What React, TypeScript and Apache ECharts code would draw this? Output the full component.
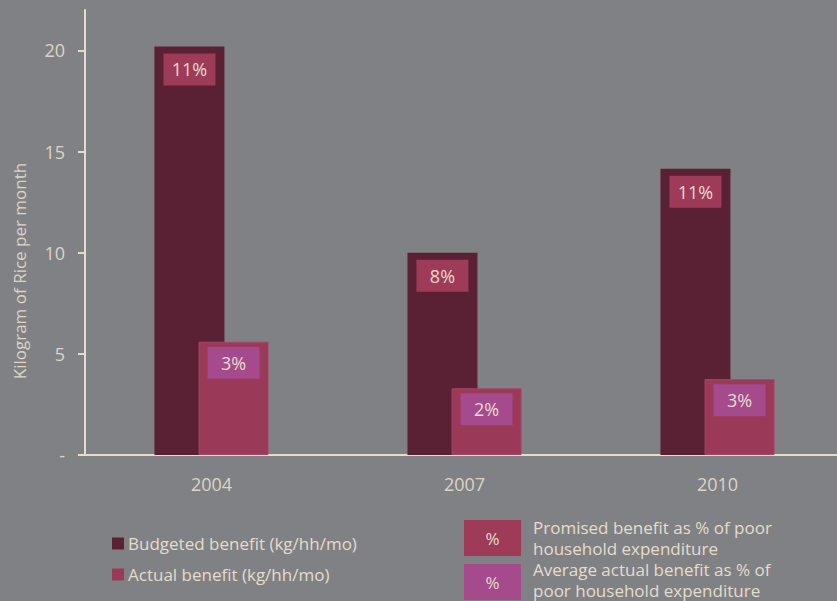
import React, { useEffect, useRef } from "react";
import * as echarts from "echarts";

const years = ["2004", "2007", "2010"];
const budgeted = [20.2, 10.0, 14.15];
const actual = [5.6, 3.3, 3.75];
const budgetedPct = ["11%", "8%", "11%"];
const actualPct = ["3%", "2%", "3%"];
const yTicks = [0, 5, 10, 15, 20];

const BG = "#808185";
const C_BUD = "#5a2033";
const C_ACT = "#9b3a58";
const C_LBL_BUD = "#9d3b59";
const C_LBL_ACT = "#a54a8c";
const BEIGE = "#e6dccb";
const FONT = "'Open Sans', 'Noto Sans', sans-serif";

export default function App() {
  const ref = useRef<HTMLDivElement>(null);
  useEffect(() => {
    if (!ref.current) return;
    const chart = echarts.init(ref.current, undefined, { renderer: "svg" });
    const labelBox = (arr: string[], bg: string, dist: number) => ({
      show: true,
      position: "insideTop",
      distance: dist,
      formatter: (p: any) => arr[p.dataIndex],
      color: BEIGE,
      fontSize: 18,
      fontFamily: FONT,
      backgroundColor: bg,
      width: 52,
      height: 32,
      lineHeight: 32,
      align: "center",
    });
    const legendLine = (text: string, y: number) => ({
      type: "text",
      x: 533,
      y,
      style: {
        text,
        fill: BEIGE,
        fontSize: 17,
        fontFamily: FONT,
        verticalAlign: "middle",
      },
    });
    const pctText = (y: number) => ({
      type: "text",
      x: 492.5,
      y,
      style: { text: "%", fill: BEIGE, fontSize: 17, fontFamily: FONT, align: "center", verticalAlign: "middle" },
    });
    chart.setOption({
      animation: false,
      backgroundColor: BG,
      textStyle: { fontFamily: FONT },
      grid: {
        left: 85,
        top: 10,
        width: 759,
        bottom: 146,
        containLabel: false,
        outerBoundsMode: "none",
      },
      xAxis: {
        type: "category",
        data: years,
        axisLine: { lineStyle: { color: BEIGE, width: 2 } },
        axisTick: { length: 8, lineStyle: { color: BEIGE, width: 2 } },
        axisLabel: { color: "#ddd4c5", fontSize: 18, margin: 20, fontFamily: FONT },
      },
      yAxis: {
        type: "value",
        min: 0,
        max: 22,
        interval: 5,
        splitLine: { show: false },
        axisLine: { show: true, lineStyle: { color: BEIGE, width: 2 } },
        axisTick: {
          show: true,
          length: 7,
          customValues: yTicks,
          lineStyle: { color: BEIGE, width: 2 },
        },
        axisLabel: {
          customValues: yTicks,
          color: "#ddd4c5",
          fontSize: 18,
          margin: 20,
          fontFamily: FONT,
          formatter: (v: number) => (v === 0 ? "-" : String(v)),
        },
      },
      legend: {
        orient: "vertical",
        left: 112,
        top: 535,
        padding: 0,
        itemWidth: 12,
        itemHeight: 12,
        itemGap: 14,
        icon: "rect",
        itemStyle: { borderWidth: 0 },
        textStyle: { color: BEIGE, fontSize: 17, fontFamily: FONT, padding: [0, 0, 0, -1] },
        data: ["Budgeted benefit (kg/hh/mo)", "Actual benefit (kg/hh/mo)"],
      },
      graphic: [
        {
          type: "text",
          x: 19,
          y: 271,
          rotation: Math.PI / 2,
          style: {
            text: "Kilogram of Rice per month",
            fill: "#ddd4c5",
            fontSize: 17,
            fontFamily: FONT,
            align: "center",
            verticalAlign: "middle",
          },
        },
        { type: "rect", shape: { x: 464, y: 520, width: 57, height: 36 }, style: { fill: C_LBL_BUD } },
        pctText(538),
        { type: "rect", shape: { x: 464, y: 564, width: 57, height: 36 }, style: { fill: C_LBL_ACT } },
        pctText(582),
        legendLine("Promised benefit as % of poor", 527),
        legendLine("household expenditure", 548),
        legendLine("Average actual benefit as % of", 569),
        legendLine("poor household expenditure", 590),
      ],
      series: [
        {
          name: "Budgeted benefit (kg/hh/mo)",
          type: "bar",
          data: budgeted,
          barWidth: 70,
          barGap: "-37%",
          itemStyle: { color: C_BUD },
          label: labelBox(budgetedPct, C_LBL_BUD, 7),
        },
        {
          name: "Actual benefit (kg/hh/mo)",
          type: "bar",
          data: actual,
          barWidth: 70,
          itemStyle: { color: C_ACT, borderColor: "#a5466a", borderWidth: 1 },
          label: labelBox(actualPct, C_LBL_ACT, 5),
        },
      ],
    });
    return () => chart.dispose();
  }, []);
  return <div ref={ref} style={{ width: 837, height: 601, position: "fixed", left: 0, top: 0 }} />;
}
